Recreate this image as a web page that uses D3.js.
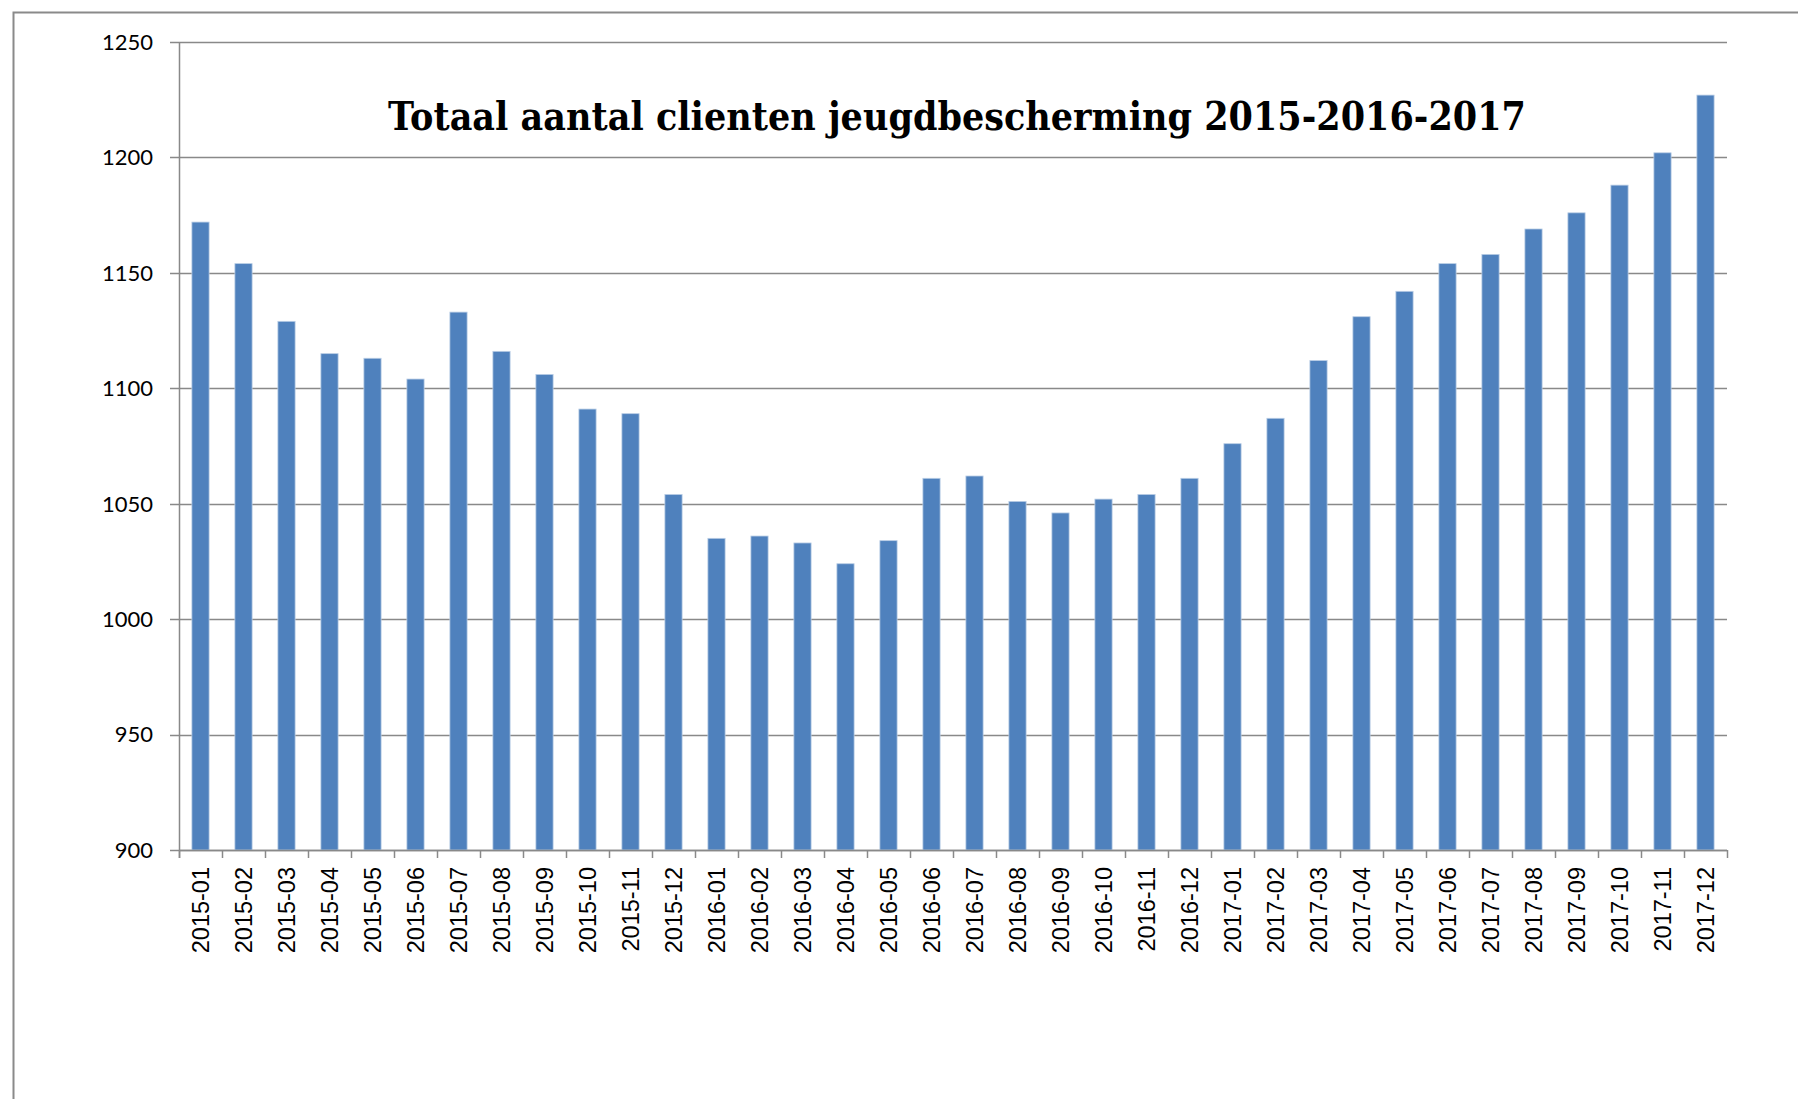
<!DOCTYPE html>
<html>
<head>
<meta charset="utf-8">
<script src="https://cdn.jsdelivr.net/npm/d3@7"></script>
<style>
  body { margin: 0; background: #fff; }
  svg { display: block; }
</style>
</head>
<body>
<script>
// months shown on the x axis
const months = [
  "2015-01","2015-02","2015-03","2015-04","2015-05","2015-06","2015-07","2015-08","2015-09","2015-10","2015-11","2015-12",
  "2016-01","2016-02","2016-03","2016-04","2016-05","2016-06","2016-07","2016-08","2016-09","2016-10","2016-11","2016-12",
  "2017-01","2017-02","2017-03","2017-04","2017-05","2017-06","2017-07","2017-08","2017-09","2017-10","2017-11","2017-12"
];
// total number of clients per month
const clients = [
  1172, 1154, 1129, 1115, 1113, 1104, 1133, 1116, 1106, 1091, 1089, 1054,
  1035, 1036, 1033, 1024, 1034, 1061, 1062, 1051, 1046, 1052, 1054, 1061,
  1076, 1087, 1112, 1131, 1142, 1154, 1158, 1169, 1176, 1188, 1202, 1227
];
const yTicks = [900, 950, 1000, 1050, 1100, 1150, 1200, 1250];
const title = "Totaal aantal clienten jeugdbescherming 2015-2016-2017";

const width = 1798, height = 1099;
const plot = { left: 179, right: 1727, top: 42, bottom: 850 };
const gridColor = "#898989";

const svg = d3.select("body").append("svg")
  .attr("width", width)
  .attr("height", height);

// chart border (clipped at right and bottom)
svg.append("path")
  .attr("d", `M13.5,${height} V12.5 H${width}`)
  .attr("fill", "none")
  .attr("stroke", "#8a8a8a")
  .attr("stroke-width", 2);

const x = d3.scaleBand()
  .domain(months)
  .range([plot.left, plot.right])
  .paddingInner(0.6)
  .paddingOuter(0.3);

const y = d3.scaleLinear()
  .domain([900, 1250])
  .range([plot.bottom, plot.top]);

// horizontal grid lines
svg.append("g")
  .selectAll("line")
  .data(yTicks)
  .join("line")
  .attr("x1", plot.left - 9)
  .attr("x2", plot.right)
  .attr("y1", d => Math.round(y(d)) + 0.5)
  .attr("y2", d => Math.round(y(d)) + 0.5)
  .attr("stroke", gridColor)
  .attr("stroke-width", 1.5);

// y axis line
svg.append("line")
  .attr("x1", plot.left + 0.5).attr("x2", plot.left + 0.5)
  .attr("y1", plot.top).attr("y2", plot.bottom + 8)
  .attr("stroke", gridColor)
  .attr("stroke-width", 1.5);

// y labels
svg.append("g")
  .selectAll("text")
  .data(yTicks)
  .join("text")
  .attr("x", 153)
  .attr("y", d => y(d))
  .attr("dy", "0.36em")
  .attr("text-anchor", "end")
  .attr("font-family", "Lato, 'Open Sans', sans-serif")
  .attr("font-size", 22)
  .attr("fill", "#000")
  .text(d => d);

// bars
svg.append("g")
  .selectAll("rect")
  .data(months)
  .join("rect")
  .attr("x", d => x(d))
  .attr("width", x.bandwidth())
  .attr("y", (d, i) => y(clients[i]))
  .attr("height", (d, i) => y(900) - y(clients[i]))
  .attr("fill", "#4f81bd")
  .attr("stroke", "#b9cde5")
  .attr("stroke-width", 0.8);

// x axis line and category ticks
const bounds = d3.range(months.length + 1).map(i => plot.left + i * (plot.right - plot.left) / months.length);
svg.append("line")
  .attr("x1", plot.left).attr("x2", plot.right)
  .attr("y1", plot.bottom + 0.5).attr("y2", plot.bottom + 0.5)
  .attr("stroke", gridColor)
  .attr("stroke-width", 1.5);
svg.append("g")
  .selectAll("line")
  .data(bounds)
  .join("line")
  .attr("x1", d => Math.round(d) + 0.5)
  .attr("x2", d => Math.round(d) + 0.5)
  .attr("y1", plot.bottom)
  .attr("y2", plot.bottom + 8)
  .attr("stroke", gridColor)
  .attr("stroke-width", 1.5);

// x labels, rotated
svg.append("g")
  .selectAll("text")
  .data(months)
  .join("text")
  .attr("transform", d => `translate(${x(d) + x.bandwidth() / 2},867) rotate(-90)`)
  .attr("dy", "0.36em")
  .attr("text-anchor", "end")
  .attr("font-family", "'Liberation Sans', Arial, sans-serif")
  .attr("font-size", 23.5)
  .attr("fill", "#000")
  .text(d => d);

// title
svg.append("text")
  .attr("x", 957)
  .attr("y", 130)
  .attr("text-anchor", "middle")
  .attr("font-family", "'DejaVu Serif', 'Liberation Serif', serif")
  .attr("font-weight", "bold")
  .attr("font-size", 40)
  .attr("textLength", 1138)
  .attr("lengthAdjust", "spacingAndGlyphs")
  .attr("fill", "#000")
  .text(title);
</script>
</body>
</html>
